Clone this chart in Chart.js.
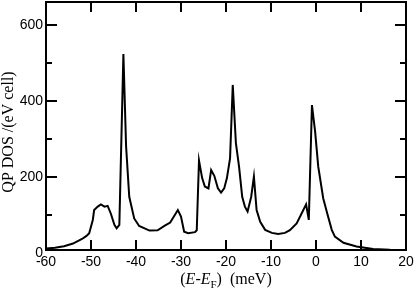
<!DOCTYPE html>
<html>
<head>
<meta charset="utf-8">
<script src="https://cdn.jsdelivr.net/npm/chart.js@4/dist/chart.umd.min.js"></script>
<style>
  html, body { margin: 0; padding: 0; background: #fff; }
  #wrap { width: 416px; height: 292px; }
</style>
</head>
<body>
<div id="wrap"><canvas id="c" width="416" height="292"></canvas></div>
<script>
// Energy (meV) relative to Fermi level
const energy = [-60, -58, -56, -54, -52, -51, -50.4, -49.6, -49.3, -48.5, -47.8, -47.0, -46.3, -45.6, -44.8, -44.3, -43.7,
  -42.8, -42.2, -41.5, -40.4, -39.3, -37.0, -35.2, -33.6, -32.4, -30.7, -30.0, -29.3, -28.4, -26.9, -26.5,
  -26.0, -25.3, -24.7, -23.9, -23.3, -22.6, -21.8, -21.1, -20.4, -19.8, -19.1, -18.5, -17.8, -17.1, -16.4,
  -15.8, -15.2, -14.4, -13.8, -13.2, -12.4, -11.3, -9.8, -8.4, -6.9, -5.8, -4.3, -3.2, -2.2, -1.6, -0.9,
  -0.2, 0.5, 1.6, 2.5, 3.5, 4.2, 6.1, 9.0, 12.7, 16.4, 20];
// QP DOS values /(eV cell)
const qpDos = [12, 14, 18, 25, 37, 45, 52, 87, 113, 122, 128, 122, 124, 104, 74, 65, 74,
  523, 280, 148, 91, 71, 59, 60, 72, 80, 113, 96, 56, 52, 55, 60,
  243, 197, 175, 170, 218, 203, 170, 159, 170, 197, 249, 442, 289, 227, 148,
  122, 109, 148, 201, 113, 82, 61, 53, 50, 53, 60, 78, 104, 128, 87, 389,
  320, 227, 144, 104, 61, 43, 27, 17, 10.5, 8.5, 8];
const xTicks = [-60, -50, -40, -30, -20, -10, 0, 10, 20];
const yTicks = [0, 200, 400, 600];
const yMinorTicks = [100, 300, 500];
const xRange = [-60, 20];
const yRange = [8, 660];

const points = energy.map((e, i) => ({ x: e, y: qpDos[i] }));

const framePlugin = {
  id: 'frame',
  afterDraw(chart) {
    const ctx = chart.ctx;
    const a = chart.chartArea;
    const xs = chart.scales.x, ys = chart.scales.y;
    ctx.save();
    ctx.strokeStyle = '#000';
    ctx.lineWidth = 2;
    ctx.beginPath();
    xTicks.forEach(v => {
      if (v <= xRange[0] || v >= xRange[1]) return;
      const p = Math.round(xs.getPixelForValue(v));
      ctx.moveTo(p, a.bottom); ctx.lineTo(p, a.bottom - 10);
      ctx.moveTo(p, a.top); ctx.lineTo(p, a.top + 10);
    });
    yTicks.forEach(v => {
      if (v <= yRange[0] || v >= yRange[1]) return;
      const p = Math.round(ys.getPixelForValue(v));
      ctx.moveTo(a.left, p); ctx.lineTo(a.left + 11, p);
      ctx.moveTo(a.right, p); ctx.lineTo(a.right - 11, p);
    });
    yMinorTicks.forEach(v => {
      const p = Math.round(ys.getPixelForValue(v));
      ctx.moveTo(a.left, p); ctx.lineTo(a.left + 6, p);
      ctx.moveTo(a.right, p); ctx.lineTo(a.right - 6, p);
    });
    ctx.stroke();
    ctx.strokeRect(a.left, a.top, a.right - a.left, a.bottom - a.top);

    // x axis title: (E-E_F)  (meV)
    ctx.fillStyle = '#000';
    ctx.textBaseline = 'alphabetic';
    const base = 284;
    const reg = '16px "Liberation Serif", "Times New Roman", serif';
    const ita = 'italic 16px "Liberation Serif", "Times New Roman", serif';
    const sub = '11px "Liberation Serif", "Times New Roman", serif';
    const parts = [
      { t: '(', f: reg, dy: 0 },
      { t: 'E', f: ita, dy: 0 },
      { t: '-', f: reg, dy: 0 },
      { t: 'E', f: ita, dy: 0 },
      { t: 'F', f: sub, dy: 4 },
      { t: ')  (meV)', f: reg, dy: 0 }
    ];
    let total = 0;
    parts.forEach(p => { ctx.font = p.f; p.w = ctx.measureText(p.t).width; total += p.w; });
    let x = (a.left + a.right) / 2 - total / 2;
    ctx.textAlign = 'left';
    parts.forEach(p => { ctx.font = p.f; ctx.fillText(p.t, x, base + p.dy); x += p.w; });

    // y axis title
    ctx.save();
    ctx.translate(9, 132);
    ctx.rotate(-Math.PI / 2);
    ctx.font = '16px "Liberation Serif", "Times New Roman", serif';
    ctx.textAlign = 'center';
    ctx.textBaseline = 'middle';
    ctx.fillText('QP DOS /(eV cell)', 0, 0);
    ctx.restore();
    ctx.restore();
  }
};

new Chart(document.getElementById('c'), {
  type: 'line',
  data: {
    datasets: [{
      data: points,
      borderColor: '#000',
      borderWidth: 2,
      pointRadius: 0,
      tension: 0,
      fill: false
    }]
  },
  options: {
    responsive: false,
    animation: false,
    layout: { padding: { top: 2, right: 10, left: 0, bottom: 0 } },
    plugins: { legend: { display: false }, tooltip: { enabled: false } },
    scales: {
      x: {
        type: 'linear',
        min: xRange[0], max: xRange[1],
        border: { display: false },
        grid: { display: false, drawTicks: false },
        afterBuildTicks: s => { s.ticks = xTicks.map(v => ({ value: v })); },
        afterFit: s => { s.height = 42; s.paddingLeft = 0; s.paddingRight = 0; },
        ticks: {
          autoSkip: false, maxRotation: 0, padding: 4, color: '#000',
          font: { family: '"Liberation Sans", Arial, sans-serif', size: 14 }
        }
      },
      y: {
        type: 'linear',
        min: yRange[0], max: yRange[1],
        border: { display: false },
        grid: { display: false, drawTicks: false },
        afterBuildTicks: s => { s.ticks = yTicks.map(v => ({ value: v })); },
        afterFit: s => { s.width = 46; s.paddingTop = 0; s.paddingBottom = 0; },
        ticks: {
          autoSkip: false, padding: 3, color: '#000',
          font: { family: '"Liberation Sans", Arial, sans-serif', size: 14 }
        }
      }
    }
  },
  plugins: [framePlugin]
});
</script>
</body>
</html>
